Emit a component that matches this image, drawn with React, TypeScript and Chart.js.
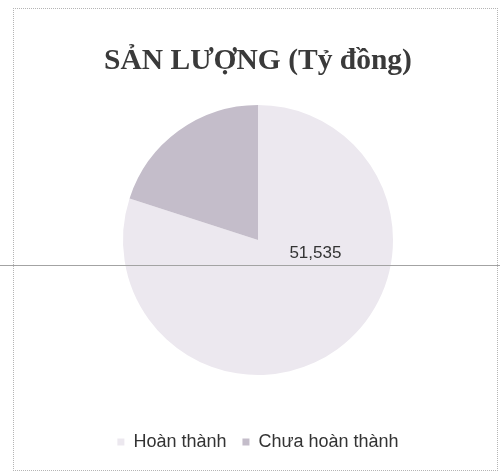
import React, { useEffect, useRef } from "react";
import { Chart, registerables } from "chart.js";

Chart.register(...registerables);

const categories = ["Hoàn thành", "Chưa hoàn thành"];
const values = [51535, 12900];
const sliceColors = ["#ece8ef", "#c4bdca"];
const chartTitle = "SẢN LƯỢNG (Tỷ đồng)";
const labelledSlices = [0];

const valueLabelPlugin = {
  id: "valueLabel",
  afterDatasetsDraw(chart: any) {
    const meta = chart.getDatasetMeta(0);
    const ctx = chart.ctx;
    labelledSlices.forEach((i) => {
      const arc = meta.data[i] as any;
      const { x, y, outerRadius } = arc.getProps(["x", "y", "outerRadius"], true);
      const text = values[i].toLocaleString("en-US");
      ctx.save();
      ctx.font = "17px 'Liberation Sans', Arial, sans-serif";
      ctx.fillStyle = "#333333";
      ctx.textAlign = "center";
      ctx.textBaseline = "middle";
      ctx.fillText(text, x + outerRadius * 0.425, y + outerRadius * 0.1);
      ctx.restore();
    });
  },
};

export default function App() {
  const canvasRef = useRef<HTMLCanvasElement | null>(null);

  useEffect(() => {
    if (!canvasRef.current) return;
    const chart = new Chart(canvasRef.current, {
      type: "pie",
      data: {
        labels: categories,
        datasets: [
          {
            data: values,
            backgroundColor: sliceColors,
            borderWidth: 0,
            radius: 135,
          } as any,
        ],
      },
      options: {
        responsive: false,
        animation: false,
        devicePixelRatio: 1,
        layout: { padding: { left: 16, right: 0, top: 0, bottom: 13 } },
        plugins: {
          title: {
            display: true,
            text: chartTitle,
            color: "#3a3a3a",
            font: {
              family: "'Liberation Serif', 'Times New Roman', serif",
              size: 29.5,
              weight: "bold",
            },
            padding: { top: 43.3, bottom: -15.7 } as any,
          },
          legend: {
            position: "bottom",
            labels: {
              boxWidth: 7,
              boxHeight: 7,
              padding: 16,
              color: "#333333",
              font: { family: "'Liberation Sans', Arial, sans-serif", size: 18 },
            },
          },
          tooltip: { enabled: false },
        },
      } as any,
      plugins: [valueLabelPlugin],
    });
    return () => chart.destroy();
  }, []);

  return (
    <div style={{ position: "absolute", left: 0, top: 0, width: 500, height: 474, background: "#ffffff" }}>
      <canvas ref={canvasRef} width={500} height={474} style={{ display: "block" }} />
      <div
        style={{
          position: "absolute",
          left: 13,
          top: 8,
          width: 483,
          height: 461,
          border: "1px dotted #b5b5b5",
          pointerEvents: "none",
        }}
      />
      <div
        style={{
          position: "absolute",
          left: 0,
          top: 265,
          width: 500,
          height: 1,
          background: "#a3a3a3",
          pointerEvents: "none",
        }}
      />
    </div>
  );
}
